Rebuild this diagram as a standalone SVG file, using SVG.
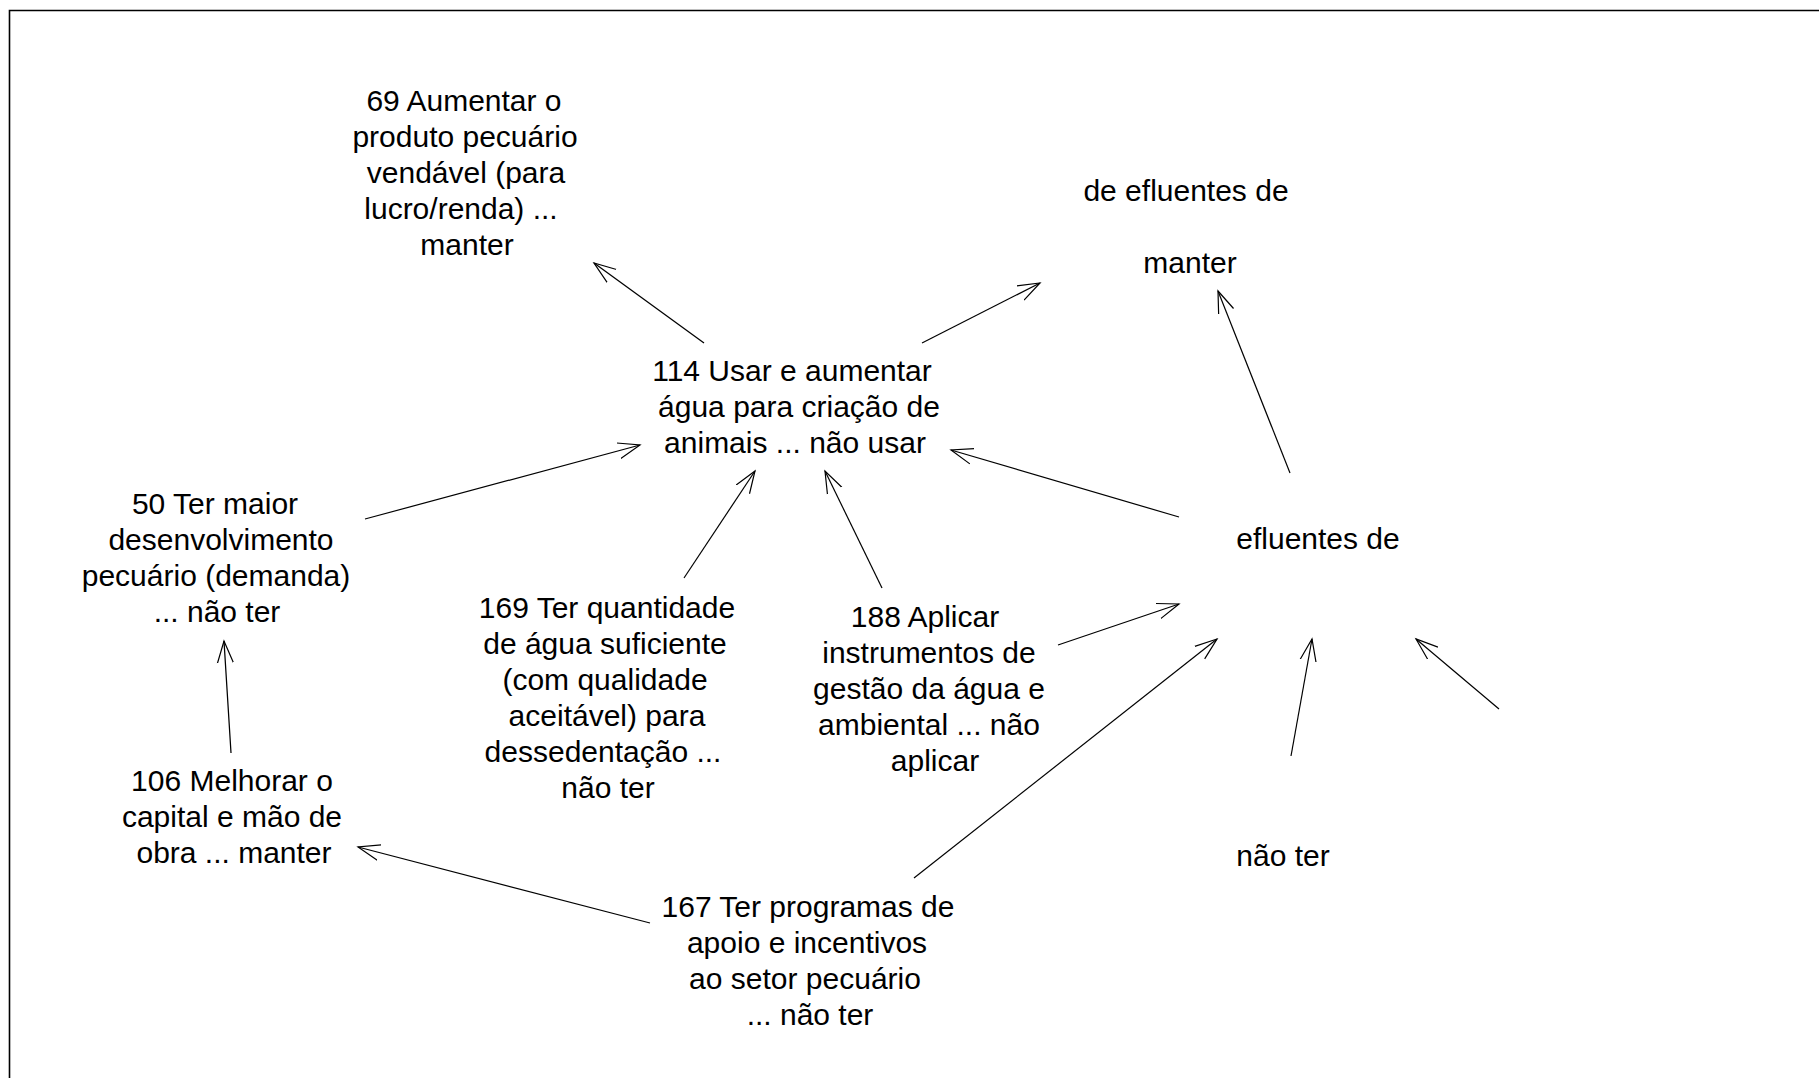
<svg xmlns="http://www.w3.org/2000/svg" width="1819" height="1078" viewBox="0 0 1819 1078">
<style>
text{font-family:"Liberation Sans",Arial,sans-serif;font-size:30px;fill:#000;text-anchor:middle}
.c line{stroke:#000;stroke-width:1.2;fill:none}
</style>
<defs>
<marker id="a" markerUnits="userSpaceOnUse" markerWidth="30" markerHeight="30" refX="22" refY="10" orient="auto" viewBox="0 0 30 20">
<polyline points="0,2 22,10 0,18" fill="none" stroke="#000" stroke-width="1.2"/>
</marker>
</defs>
<rect width="1819" height="1078" fill="#fff"/>
<path d="M9.5,1078 V10.5 H1819" fill="none" stroke="#000" stroke-width="1.6"/>
<g class="c">
<line x1="704" y1="343" x2="594" y2="263" marker-end="url(#a)"/>
<line x1="922" y1="343" x2="1040" y2="283" marker-end="url(#a)"/>
<line x1="1290" y1="473" x2="1218" y2="291" marker-end="url(#a)"/>
<line x1="365" y1="519" x2="640" y2="445" marker-end="url(#a)"/>
<line x1="684" y1="578" x2="755" y2="471" marker-end="url(#a)"/>
<line x1="882" y1="588" x2="825" y2="471" marker-end="url(#a)"/>
<line x1="1179" y1="517" x2="951" y2="450" marker-end="url(#a)"/>
<line x1="1058" y1="645" x2="1179" y2="604" marker-end="url(#a)"/>
<line x1="914" y1="878" x2="1217" y2="639" marker-end="url(#a)"/>
<line x1="231" y1="753" x2="224" y2="641" marker-end="url(#a)"/>
<line x1="650" y1="923" x2="358" y2="847" marker-end="url(#a)"/>
<line x1="1291" y1="756" x2="1312" y2="639" marker-end="url(#a)"/>
<line x1="1499" y1="709" x2="1416" y2="639" marker-end="url(#a)"/>
</g>
<g id="n69">
<text x="464" y="111">69 Aumentar o</text>
<text x="465" y="147">produto pecuário</text>
<text x="466" y="183">vendável (para</text>
<text x="461" y="219">lucro/renda) ...</text>
<text x="467" y="255">manter</text>
</g>
<g id="nTop">
<text x="1186" y="201">de efluentes de</text>
<text x="1190" y="273">manter</text>
</g>
<g id="n114">
<text x="792" y="381">114 Usar e aumentar</text>
<text x="799" y="417">água para criação de</text>
<text x="795" y="453">animais ... não usar</text>
</g>
<g id="n50">
<text x="215" y="514">50 Ter maior</text>
<text x="221" y="550">desenvolvimento</text>
<text x="216" y="586">pecuário (demanda)</text>
<text x="217" y="622">... não ter</text>
</g>
<g id="n169">
<text x="607" y="618">169 Ter quantidade</text>
<text x="605" y="654">de água suficiente</text>
<text x="605" y="690">(com qualidade</text>
<text x="607" y="726">aceitável) para</text>
<text x="603" y="762">dessedentação ...</text>
<text x="608" y="798">não ter</text>
</g>
<g id="n188">
<text x="925" y="627">188 Aplicar</text>
<text x="929" y="663">instrumentos de</text>
<text x="929" y="699">gestão da água e</text>
<text x="929" y="735">ambiental ... não</text>
<text x="935" y="771">aplicar</text>
</g>
<g id="nEfl">
<text x="1318" y="549">efluentes de</text>
</g>
<g id="nNaoTer">
<text x="1283" y="866">não ter</text>
</g>
<g id="n106">
<text x="232" y="791">106 Melhorar o</text>
<text x="232" y="827">capital e mão de</text>
<text x="234" y="863">obra ... manter</text>
</g>
<g id="n167">
<text x="808" y="917">167 Ter programas de</text>
<text x="807" y="953">apoio e incentivos</text>
<text x="805" y="989">ao setor pecuário</text>
<text x="810" y="1025">... não ter</text>
</g>
</svg>
